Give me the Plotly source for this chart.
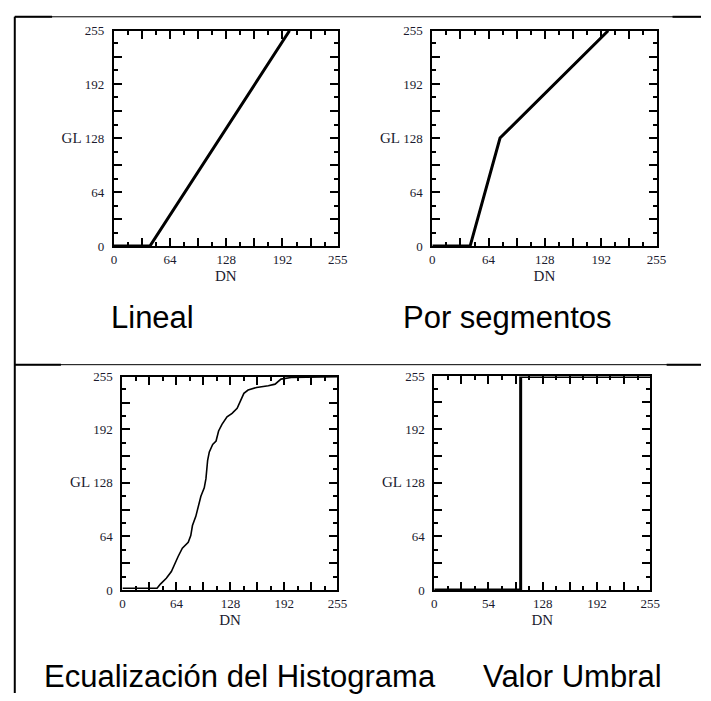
import plotly.graph_objects as go

# ---------------- data ----------------
lineal_dn = [0, 41, 200]
lineal_gl = [0, 0, 255]

seg_dn = [0, 43, 77, 200]
seg_gl = [0, 0, 128, 255]

eq_dn = [0, 41, 45, 52, 58, 62, 66, 71, 78, 81, 83, 87, 90, 93, 97, 99, 101, 103, 107,
         111, 114, 118, 124, 130, 136, 140, 144, 149, 159, 173, 181, 188, 200, 255]
eq_gl = [2, 2, 7, 14, 22, 30, 40, 50, 57, 65, 77, 88, 100, 112, 122, 133, 155, 165, 174,
         178, 190, 198, 207, 211, 217, 227, 235, 239, 242, 244, 246, 252, 254, 255]

umbral_dn = [0, 102, 102, 255]
umbral_gl = [0, 0, 255, 255]

major_vals = [0, 32, 64, 96, 128, 160, 192, 224, 255]
x_labels = ["0", "", "64", "", "128", "", "192", "", "255"]
x_labels_umbral = ["0", "", "54", "", "128", "", "192", "", "255"]
y_labels = ["0", "", "64", "", "<span style='font-size:15px'>GL</span> 128", "", "192", "", "255"]

titles = ["Lineal", "Por segmentos", "Ecualización del Histograma", "Valor Umbral"]

W, H = 711, 701

def px(x):
    return x / W

def py(y):
    return 1 - y / H

fig = go.Figure()

panels = [
    (lineal_dn, lineal_gl, 3, (113, 341), (24.3, 244.3), x_labels),
    (seg_dn, seg_gl, 3, (437.3, 665.7), (24.3, 244.3), x_labels),
    (eq_dn, eq_gl, 1.6, (121.7, 340.7), (377.7, 595.7), x_labels),
    (umbral_dn, umbral_gl, 3, (439.3, 659.3), (377.5, 595.7), x_labels_umbral),
]

serif = "Liberation Serif, Times New Roman, serif"
tickfont = dict(family=serif, size=13, color="#1a1a2e")

for i, (xs, ys, lw, (x0, x1), (y0, y1), xl) in enumerate(panels):
    n = "" if i == 0 else str(i + 1)
    fig.add_trace(go.Scatter(x=xs, y=ys, mode="lines", line=dict(color="black", width=lw),
                             xaxis="x" + n, yaxis="y" + n, cliponaxis=False,
                             hoverinfo="skip", showlegend=False))
    common = dict(range=[0, 255], showgrid=False, zeroline=False, showline=True,
                  linecolor="black", linewidth=2, mirror="allticks",
                  ticks="inside", ticklen=8, tickwidth=2, tickcolor="black",
                  tickmode="array", tickvals=major_vals, tickfont=tickfont,
                  minor=dict(dtick=16, tick0=0, ticks="inside", ticklen=4, tickwidth=2,
                             tickcolor="black", showgrid=False),
                  fixedrange=True)
    fig.layout["xaxis" + n] = dict(common, domain=[px(x0), px(x1)], anchor="y" + n,
                                   ticktext=xl,
                                   title=dict(text="DN", standoff=5,
                                              font=dict(family=serif, size=15, color="#1a1a2e")))
    fig.layout["yaxis" + n] = dict(common, domain=[py(y1), py(y0)], anchor="x" + n,
                                   ticktext=y_labels, ticklabelstandoff=5)

# text labels under the charts
label_pos = [(152, 317), (514, 317), (241, 684), (580, 684)]
for t, (lx, ly) in zip(titles, label_pos):
    fig.add_annotation(text=t, x=px(lx), y=py(ly), xref="paper", yref="paper",
                       showarrow=False, xanchor="center", yanchor="middle",
                       font=dict(family="Liberation Sans, Arial, sans-serif", size=31, color="black"))

# table borders
shapes = []
def hline(y, xa, xb, w):
    shapes.append(dict(type="line", xref="paper", yref="paper", x0=px(xa), x1=px(xb),
                       y0=py(y), y1=py(y), line=dict(color="black", width=w)))
hline(10, 12, 711, 1)
hline(10, 12, 50, 2)
hline(10, 682, 711, 2)
hline(365.5, 12, 711, 1)
hline(365.5, 12, 59, 2)
hline(365.5, 676, 711, 2)
shapes.append(dict(type="line", xref="paper", yref="paper", x0=px(12), x1=px(12),
                   y0=py(10), y1=py(701), line=dict(color="black", width=2)))
fig.update_layout(shapes=shapes)

fig.update_layout(width=W, height=H, autosize=False,
                  margin=dict(l=0, r=0, t=0, b=0),
                  paper_bgcolor="white", plot_bgcolor="white")

fig.write_html("out.html", config={"displayModeBar": False},
               post_script="document.body.style.margin='0';document.body.style.overflow='hidden';")
